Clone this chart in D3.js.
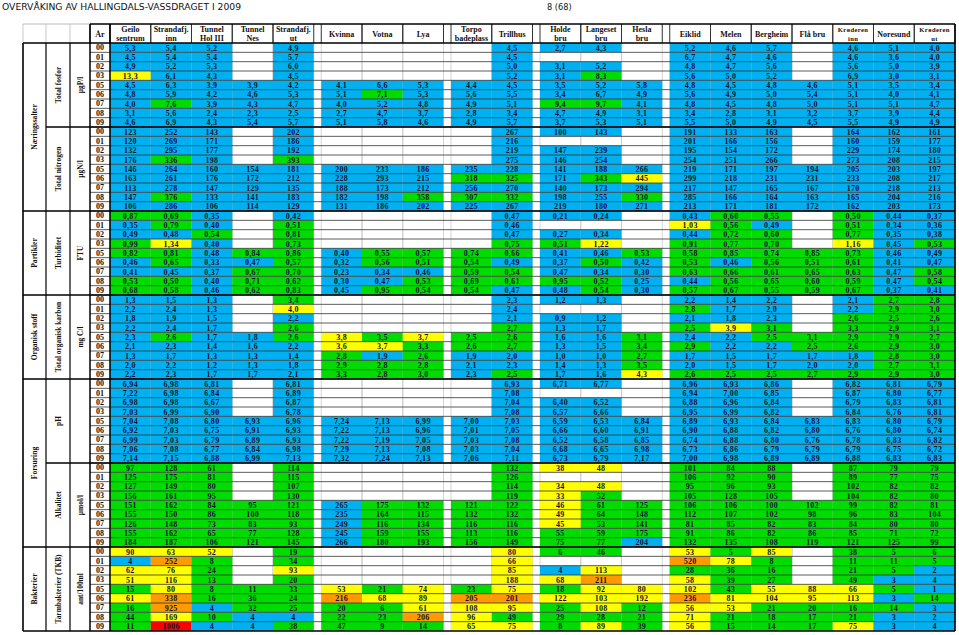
<!DOCTYPE html>
<html><head><meta charset="utf-8">
<script src="https://cdn.jsdelivr.net/npm/d3@7"></script>
<style>body{margin:0;background:#fff}svg{display:block}</style>
</head><body>
<script>
// ---------- DATA ----------
const years = ["00","01","02","03","05","06","07","08","09"];
const stations = [["Geilo","sentrum"],["Strandafj.","inn"],["Tunnel","Hol III"],["Tunnel","Nes"],["Strandafj.","ut"],
  ["Kvinna"],["Votna"],["Lya"],["Torpo","badeplass"],["Trillhus"],["Holde","bru"],["Langeset","bru"],["Hesla","bru"],
  ["Eiklid"],["Melen"],["Bergheim"],["Flå bru"],["Krøderen","inn"],["Noresund"],["Krøderen","ut"]];
const gapAfter = [4,7,9,12];
const level1Labels = ["Næringssalter","Partikler","Organisk stoff","Forsuring","Bakterier"];
const level1Spans = [2,1,1,2,1];
const paramLabels = ["Total fosfor","Total nitrogen","Turbiditet","Total organisk karbon","pH","Alkalitet","Tarmbakterier (TKB)"];
const unitLabels = ["µgP/l","µgN/l","FTU","mg C/l","","µmol/l","ant/100ml"];
const decimals = [1,0,2,1,2,0,0];
const _ = null;
const totP = [
 [5.3,5.4,5.2,_,4.9, _,_,_, _,4.5, 2.7,4.3,_, 5.2,4.6,5.7,_,4.6,5.1,4.0],
 [4.5,5.4,5.4,_,5.7, _,_,_, _,4.5, _,_,_, 6.7,4.7,4.6,_,4.6,3.6,4.0],
 [4.9,5.2,5.3,_,6.0, _,_,_, _,5.0, 3.1,5.2,_, 4.8,4.7,5.6,_,5.6,5.0,3.9],
 [13.3,6.1,4.3,_,4.5, _,_,_, _,5.2, 3.1,8.3,_, 5.6,5.0,5.2,_,6.9,3.0,3.1],
 [4.5,6.3,3.9,3.9,4.2, 4.1,6.6,5.3, 4.4,4.5, 3.5,5.2,5.8, 4.8,4.5,4.8,4.6,5.1,3.5,3.4],
 [4.8,5.9,4.2,4.6,5.3, 5.1,7.1,5.3, 5.6,5.5, 3.4,6.7,4.9, 5.6,4.9,5.0,5.4,5.1,4.0,4.1],
 [4.0,7.6,3.9,4.3,4.7, 4.0,5.2,4.8, 4.9,5.1, 9.4,9.7,4.1, 4.8,4.5,4.8,5.0,5.1,5.1,4.7],
 [3.1,5.6,2.4,2.3,2.5, 2.7,4.7,3.7, 2.8,3.4, 4.7,4.9,3.1, 3.4,2.8,3.1,3.2,3.7,3.9,4.4],
 [4.6,6.9,4.3,5.4,5.7, 5.1,5.8,4.6, 4.9,5.7, 3.7,5.3,5.1, 5.5,5.0,4.9,4.5,5.5,4.9,4.9]];
const totN = [
 [123,252,143,_,202, _,_,_, _,267, 100,143,_, 191,133,163,_,164,162,161],
 [120,269,171,_,186, _,_,_, _,216, _,_,_, 201,166,156,_,160,159,177],
 [132,295,177,_,192, _,_,_, _,219, 147,239,_, 195,154,172,_,229,174,180],
 [176,336,198,_,393, _,_,_, _,275, 146,254,_, 254,251,266,_,273,208,215],
 [146,264,160,154,181, 200,233,186, 235,228, 141,188,266, 219,171,197,194,205,203,197],
 [163,261,176,172,212, 228,293,215, 318,325, 171,343,445, 299,218,231,231,233,208,217],
 [113,278,147,129,135, 188,173,212, 256,270, 140,173,294, 217,147,165,167,170,218,213],
 [147,376,133,141,183, 182,198,358, 307,332, 198,255,330, 285,166,164,163,165,204,216],
 [106,286,106,114,129, 131,186,202, 225,267, 219,180,271, 213,171,181,172,162,203,173]];
const turb = [
 [0.87,0.69,0.35,_,0.42, _,_,_, _,0.47, 0.21,0.24,_, 0.43,0.60,0.55,_,0.50,0.44,0.37],
 [0.35,0.79,0.40,_,0.51, _,_,_, _,0.46, _,_,_, 1.03,0.56,0.49,_,0.51,0.34,0.36],
 [0.49,0.48,0.54,_,0.81, _,_,_, _,0.47, 0.27,0.34,_, 0.44,0.72,0.60,_,0.77,0.35,0.38],
 [0.99,1.34,0.40,_,0.73, _,_,_, _,0.75, 0.51,1.22,_, 0.91,0.77,0.70,_,1.16,0.45,0.53],
 [0.82,0.81,0.48,0.84,0.86, 0.40,0.55,0.57, 0.74,0.66, 0.41,0.46,0.53, 0.58,0.85,0.74,0.85,0.73,0.46,0.49],
 [0.46,0.65,0.33,0.47,0.57, 0.32,0.56,0.51, 0.54,0.49, 0.37,0.50,0.42, 0.53,0.46,0.56,0.51,0.61,0.41,0.47],
 [0.41,0.45,0.37,0.67,0.70, 0.23,0.34,0.46, 0.59,0.54, 0.47,0.34,0.30, 0.63,0.66,0.61,0.65,0.63,0.47,0.58],
 [0.53,0.50,0.40,0.71,0.62, 0.30,0.47,0.53, 0.69,0.61, 0.95,0.52,0.25, 0.44,0.56,0.65,0.60,0.59,0.47,0.54],
 [0.68,0.58,0.46,0.62,0.83, 0.45,0.95,0.54, 0.54,0.47, 0.48,0.54,0.30, 0.57,0.67,0.55,0.59,0.67,0.37,0.41]];
const toc = [
 [1.3,1.5,1.3,_,3.4, _,_,_, _,2.3, 1.2,1.3,_, 2.2,1.4,2.2,_,2.1,2.7,2.8],
 [2.2,2.4,1.3,_,4.0, _,_,_, _,2.4, _,_,_, 2.8,1.7,2.0,_,2.2,2.9,3.0],
 [1.8,1.9,1.5,_,2.2, _,_,_, _,2.1, 0.9,1.2,_, 2.1,1.8,2.3,_,2.6,2.5,2.6],
 [2.2,2.4,1.7,_,2.6, _,_,_, _,2.7, 1.3,1.7,_, 2.5,3.9,3.1,_,3.3,2.9,3.1],
 [2.3,2.6,1.7,1.8,2.6, 3.8,3.5,3.7, 2.5,2.6, 1.6,1.6,3.1, 2.4,2.2,2.5,3.1,2.9,2.9,2.7],
 [2.1,2.3,1.4,1.6,2.2, 3.6,3.7,3.3, 2.6,2.7, 1.3,1.5,3.4, 2.9,2.2,2.2,2.5,2.6,2.9,3.0],
 [1.3,1.7,1.3,1.3,1.4, 2.8,1.9,2.6, 1.9,2.0, 1.0,1.0,2.7, 1.7,1.5,1.7,1.7,1.8,2.8,3.0],
 [2.0,2.2,1.2,1.3,1.8, 2.9,2.8,2.8, 2.1,2.3, 1.4,1.3,3.5, 2.0,1.5,1.7,2.0,2.0,2.7,3.1],
 [2.2,2.3,1.7,1.7,2.1, 3.3,2.8,3.0, 2.3,2.5, 1.7,1.6,4.3, 2.6,2.5,2.5,2.7,2.9,2.9,3.0]];
const ph = [
 [6.94,6.98,6.81,_,6.81, _,_,_, _,6.93, 6.71,6.77,_, 6.96,6.93,6.86,_,6.82,6.81,6.79],
 [7.22,6.98,6.84,_,6.89, _,_,_, _,7.08, _,_,_, 6.94,7.00,6.85,_,6.87,6.80,6.77],
 [6.98,6.98,6.67,_,6.87, _,_,_, _,7.04, 6.40,6.52,_, 6.88,6.96,6.84,_,6.79,6.83,6.81],
 [7.03,6.99,6.90,_,6.78, _,_,_, _,7.08, 6.57,6.66,_, 6.95,6.99,6.82,_,6.84,6.76,6.81],
 [7.04,7.08,6.80,6.93,6.96, 7.24,7.13,6.99, 7.00,7.03, 6.59,6.53,6.84, 6.89,6.93,6.84,6.83,6.83,6.80,6.79],
 [6.92,7.03,6.75,6.91,6.93, 7.22,7.13,6.96, 7.01,7.05, 6.66,6.60,6.91, 6.90,6.88,6.82,6.80,6.76,6.80,6.74],
 [6.99,7.03,6.79,6.89,6.93, 7.22,7.19,7.05, 7.03,7.08, 6.52,6.58,6.85, 6.74,6.88,6.80,6.76,6.78,6.83,6.82],
 [7.06,7.08,6.77,6.84,6.98, 7.29,7.13,7.08, 7.03,7.04, 6.68,6.65,6.98, 6.73,6.86,6.79,6.79,6.79,6.75,6.72],
 [7.14,7.15,6.88,6.99,7.13, 7.32,7.24,7.13, 7.06,7.11, 6.73,6.79,7.17, 7.00,6.98,6.89,6.89,6.88,6.83,6.83]];
const alk = [
 [97,128,61,_,114, _,_,_, _,132, 38,48,_, 101,84,88,_,87,79,79],
 [125,175,81,_,115, _,_,_, _,126, _,_,_, 106,92,90,_,89,77,75],
 [127,149,80,_,107, _,_,_, _,114, 34,48,_, 95,96,93,_,102,82,82],
 [156,161,95,_,130, _,_,_, _,119, 33,52,_, 105,128,105,_,104,82,80],
 [151,162,84,95,121, 265,175,132, 121,122, 46,61,125, 106,106,100,102,99,82,81],
 [155,150,86,100,118, 235,164,115, 132,132, 49,64,148, 112,107,102,98,96,83,104],
 [126,148,73,83,93, 249,116,134, 116,116, 45,53,141, 81,85,82,83,84,80,80],
 [155,162,65,77,128, 245,159,155, 113,116, 55,59,175, 91,86,82,86,85,71,72],
 [184,187,106,121,145, 266,180,193, 156,149, 75,77,204, 132,135,108,119,121,125,99]];
const tkb = [
 [90,63,52,_,19, _,_,_, _,80, 6,46,_, 53,5,85,_,38,5,6],
 [4,252,8,_,34, _,_,_, _,66, _,_,_, 520,78,8,_,11,11,5],
 [62,76,24,_,93, _,_,_, _,85, 4,113,_, 28,36,16,_,21,5,2],
 [51,116,13,_,20, _,_,_, _,188, 68,211,_, 58,39,27,_,49,3,4],
 [15,80,8,11,33, 53,21,74, 23,75, 18,92,80, 102,43,55,88,66,5,1],
 [61,338,16,36,24, 216,68,89, 205,201, 122,103,192, 236,81,104,95,113,3,14],
 [16,925,4,32,25, 20,6,61, 108,95, 25,108,12, 56,53,21,20,16,14,3],
 [44,169,10,4,4, 22,23,206, 96,49, 29,28,21, 71,21,18,17,21,3,2],
 [11,1006,4,4,38, 47,9,14, 65,75, 8,89,39, 56,15,14,17,75,3,4]];

// ---------- STYLE ----------
const BLUE="#00B0F0", GREEN="#00DC00", YELLOW="#FFFF00", ORANGE="#FF9A00", RED="#FF0000";
const classScales = [
  d3.scaleThreshold().domain([7,11]).range([BLUE,GREEN,YELLOW]),
  d3.scaleThreshold().domain([300,400]).range([BLUE,GREEN,YELLOW]),
  d3.scaleThreshold().domain([0.5,1]).range([BLUE,GREEN,YELLOW]),
  d3.scaleThreshold().domain([2.5,3.55]).range([BLUE,GREEN,YELLOW]),
  d3.scaleThreshold().domain([6.0]).range([GREEN,BLUE]),
  d3.scaleThreshold().domain([50,200]).range([YELLOW,GREEN,BLUE]),
  d3.scaleThreshold().domain([5,50,200,1000]).range([BLUE,GREEN,YELLOW,ORANGE,RED])
];
const datasets = [totP,totN,turb,toc,ph,alk,tkb];

const W=959,H=635;
const svg=d3.select("body").append("svg").attr("width",W).attr("height",H);
svg.append("rect").attr("width",W).attr("height",H).attr("fill","#fff");

const TOP=24, HEAD_B=43, BOT=631, LEFT=23, RIGHT=955;
const colA=[23,46], colB=[46,70], colC=[70,90], colYr=[90,110];
const colW=40.75, gapW=7.5, x0=110;
const stationKeys = stations.map(s=>s.join(" "));
const xScale = d3.scaleOrdinal().domain(stationKeys)
  .range(stationKeys.map((s,i)=> x0 + i*colW + gapAfter.filter(g=>g<i).length*gapW));
const nRows = years.length*datasets.length;
const yScale = d3.scaleBand().domain(d3.range(nRows)).range([HEAD_B,BOT]);
const rh = yScale.bandwidth();
const SERIF = "'Liberation Serif','Times New Roman',serif";
const fmt = (v,d)=> d3.format(`.${d}f`)(v).replace(".",",");

// title
svg.append("text").attr("x",2).attr("y",10).attr("font-family","'DejaVu Sans',Verdana,sans-serif")
  .attr("font-size",8.2).attr("textLength",239).attr("lengthAdjust","spacingAndGlyphs").attr("fill","#111")
  .text("OVERVÅKING AV HALLINGDALS-VASSDRAGET I 2009");
svg.append("text").attr("x",547).attr("y",10).attr("font-family","'DejaVu Sans',Verdana,sans-serif")
  .attr("font-size",8.2).attr("fill","#111").text("8 (68)");

// light vertical gridlines
const gridX = [];
stationKeys.forEach(k=>{gridX.push(xScale(k)); gridX.push(xScale(k)+colW);});
svg.append("g").selectAll("line").data(gridX).join("line")
  .attr("x1",d=>d).attr("x2",d=>d).attr("y1",HEAD_B).attr("y2",BOT)
  .attr("stroke","#c9c9c9").attr("stroke-width",0.8);

// cells
const cells=[];
datasets.forEach((ds,g)=>ds.forEach((row,r)=>row.forEach((v,c)=>{
  if(v!==null) cells.push({g,r,c,v,row:g*years.length+r});
})));
const cg = svg.append("g");
cg.selectAll("rect").data(cells).join("rect")
  .attr("x",d=>xScale(stationKeys[d.c])).attr("y",d=>yScale(d.row))
  .attr("width",colW).attr("height",rh)
  .attr("fill",d=>classScales[d.g](d.v));

// row lines
svg.append("g").selectAll("line").data(d3.range(1,nRows)).join("line")
  .attr("x1",colYr[0]).attr("x2",RIGHT).attr("y1",d=>yScale(d)).attr("y2",d=>yScale(d))
  .attr("stroke","#333").attr("stroke-width",0.8);

// header
const hg = svg.append("g");
// header verticals
const headX = [colA[0],colB[0],colC[0],colYr[0],colYr[1]];
stationKeys.forEach(k=>{headX.push(xScale(k)); headX.push(xScale(k)+colW);});
hg.selectAll("line.hv").data(headX).join("line").attr("class","hv")
  .attr("x1",d=>d).attr("x2",d=>d).attr("y1",TOP).attr("y2",HEAD_B)
  .attr("stroke",d=>d<90?"#bbb":"#333").attr("stroke-width",d=>d<90?0.8:1);
hg.append("line").attr("x1",LEFT).attr("x2",colYr[0]).attr("y1",TOP).attr("y2",TOP).attr("stroke","#bbb");
hg.append("line").attr("x1",colYr[0]).attr("x2",RIGHT).attr("y1",TOP).attr("y2",TOP).attr("stroke","#000").attr("stroke-width",1.5);
hg.append("text").attr("x",(colYr[0]+colYr[1])/2).attr("y",37).attr("text-anchor","middle")
  .attr("font-family",SERIF).attr("font-weight","bold").attr("font-size",8).attr("fill","#111").text("År");
stations.forEach((s,i)=>{
  const cx = xScale(stationKeys[i])+colW/2;
  const small = s[0]==="Krøderen";
  const t = hg.append("text").attr("text-anchor","middle").attr("font-family",SERIF).attr("font-weight","bold")
    .attr("font-size",small?6.6:8).attr("letter-spacing",small?0.4:0).attr("fill","#111");
  if(s.length===1){ t.append("tspan").attr("x",cx).attr("y",36.5).text(s[0]); }
  else { t.append("tspan").attr("x",cx).attr("y",32).text(s[0]); t.append("tspan").attr("x",cx).attr("y",41).text(s[1]); }
});

// year labels
const yrRows = d3.range(nRows);
svg.append("g").selectAll("text").data(yrRows).join("text")
  .attr("x",(colYr[0]+colYr[1])/2).attr("y",d=>yScale(d)+rh/2).attr("dy","0.35em")
  .attr("text-anchor","middle").attr("font-family",SERIF).attr("font-weight","bold").attr("font-size",8)
  .attr("fill","#111").text(d=>years[d%years.length]);

// cell values
cg.selectAll("text").data(cells).join("text")
  .attr("x",d=>xScale(stationKeys[d.c])+colW/2).attr("y",d=>yScale(d.row)+rh/2).attr("dy","0.36em")
  .attr("text-anchor","middle").attr("font-family",SERIF).attr("font-weight","bold").attr("font-size",8)
  .attr("letter-spacing",0.3).attr("fill","#141432").text(d=>fmt(d.v,decimals[d.g]));

// group boundaries
const bl = svg.append("g");
let acc=0; const lvl1Bounds=[];
level1Spans.forEach(s=>{acc+=s; lvl1Bounds.push(acc);});
d3.range(1,datasets.length).forEach(k=>{
  const y = yScale(k*years.length);
  const isL1 = lvl1Bounds.includes(k);
  bl.append("line").attr("x1",isL1?LEFT:colB[0]).attr("x2",RIGHT).attr("y1",y).attr("y2",y)
    .attr("stroke","#000").attr("stroke-width",1.6);
});
// verticals in left part
[colB[0],colC[0],colYr[0],colYr[1]].forEach(x=>{
  bl.append("line").attr("x1",x).attr("x2",x).attr("y1",x>=90?TOP:HEAD_B).attr("y2",BOT).attr("stroke","#000").attr("stroke-width",x>=90?1.5:1.2);
});
bl.append("line").attr("x1",LEFT).attr("x2",RIGHT).attr("y1",HEAD_B).attr("y2",HEAD_B).attr("stroke","#000").attr("stroke-width",1.6);
bl.append("line").attr("x1",LEFT).attr("x2",LEFT).attr("y1",HEAD_B).attr("y2",BOT).attr("stroke","#000").attr("stroke-width",1.6);
bl.append("line").attr("x1",LEFT).attr("x2",RIGHT).attr("y1",BOT).attr("y2",BOT).attr("stroke","#000").attr("stroke-width",1.6);
bl.append("line").attr("x1",RIGHT).attr("x2",RIGHT).attr("y1",TOP).attr("y2",BOT).attr("stroke","#000").attr("stroke-width",1.6);

// rotated labels
function vlabel(x,y,txt,size){
  svg.append("text").attr("transform",`translate(${x},${y}) rotate(-90)`).attr("text-anchor","middle")
    .attr("dy","0.35em").attr("font-family",SERIF).attr("font-weight","bold").attr("font-size",size)
    .attr("fill","#111").text(txt);
}
acc=0;
level1Labels.forEach((l,i)=>{
  const y0=yScale(acc*years.length); acc+=level1Spans[i];
  const y1=acc*years.length>=nRows?BOT:yScale(acc*years.length);
  vlabel((colA[0]+colA[1])/2,(y0+y1)/2,l,7.6);
});
paramLabels.forEach((l,i)=>{
  const y0=yScale(i*years.length), y1=(i+1)*years.length>=nRows?BOT:yScale((i+1)*years.length);
  vlabel((colB[0]+colB[1])/2,(y0+y1)/2,l,7.4);
  if(unitLabels[i]) vlabel((colC[0]+colC[1])/2,(y0+y1)/2,unitLabels[i],7.4);
});
</script>
</body></html>
